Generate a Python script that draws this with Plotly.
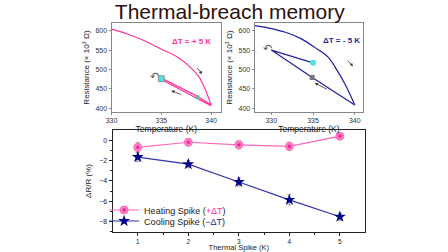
import plotly.graph_objects as go

# ---- data ----
heat_T = [330.0, 331.65, 333.3, 334.95, 336.6, 337.9, 338.9, 340.0]
heat_R = [604, 591, 574, 553, 532, 506, 476, 408]
heat_loop_T = [340.0, 338.6, 335.0, 335.2, 338.6, 340.0]
heat_loop_R = [408, 431, 478, 471, 425, 406]
heat_mark_T = [335.0]
heat_mark_R = [476]
heat_mark2_T = [338.6]
heat_mark2_R = [429]

cool_T = [328.0, 329.7, 331.7, 333.6, 335.2, 336.8, 337.9, 338.9, 340.0]
cool_R = [613, 607, 596, 579, 557, 532, 497, 459, 408]
cool_loop_T = [340.0, 334.9, 330.0, 335.0]
cool_loop_R = [408, 479, 550, 517]
cool_mark_T = [335.0]
cool_mark_R = [517]
cool_sq_T = [334.9]
cool_sq_R = [479]

spike = [1, 2, 3, 4, 5]
heating = [-0.7, -0.2, -0.45, -0.6, 0.4]
heating_err = [0.45, 0.35, 0.4, 0.4, 0.35]
cooling = [-1.65, -2.35, -4.1, -5.85, -7.5]
cooling_err = [0.45, 0.35, 0.4, 0.5, 0.35]

PINK = "#ff3399"
BLUE = "#1f1f9e"
FONT = "Liberation Sans"

fig = go.Figure()

# top-left
fig.add_trace(go.Scatter(x=heat_T, y=heat_R, mode="lines", line=dict(color=PINK, width=1.2),
                         xaxis="x", yaxis="y", showlegend=False, line_shape="spline"))
fig.add_trace(go.Scatter(x=heat_loop_T, y=heat_loop_R, mode="lines", line=dict(color=PINK, width=1.2),
                         xaxis="x", yaxis="y", showlegend=False))
fig.add_trace(go.Scatter(x=heat_mark_T, y=heat_mark_R, mode="markers",
                         marker=dict(symbol="square", size=6, color="#55e0e0", line=dict(color="#888", width=0.8)),
                         xaxis="x", yaxis="y", showlegend=False))
fig.add_trace(go.Scatter(x=heat_mark2_T, y=heat_mark2_R, mode="markers",
                         marker=dict(symbol="square", size=4, color="#66bb99"),
                         xaxis="x", yaxis="y", showlegend=False))

# top-right
fig.add_trace(go.Scatter(x=cool_T, y=cool_R, mode="lines", line=dict(color=BLUE, width=1.2),
                         xaxis="x2", yaxis="y2", showlegend=False, line_shape="spline"))
fig.add_trace(go.Scatter(x=cool_loop_T, y=cool_loop_R, mode="lines", line=dict(color=BLUE, width=1.2),
                         xaxis="x2", yaxis="y2", showlegend=False))
fig.add_trace(go.Scatter(x=cool_mark_T, y=cool_mark_R, mode="markers",
                         marker=dict(symbol="circle", size=6, color="#55e0e0", line=dict(width=0)),
                         xaxis="x2", yaxis="y2", showlegend=False))
fig.add_trace(go.Scatter(x=cool_sq_T, y=cool_sq_R, mode="markers",
                         marker=dict(symbol="square", size=5, color="#777777"),
                         xaxis="x2", yaxis="y2", showlegend=False))

# bottom
fig.add_trace(go.Scatter(x=spike, y=heating, mode="lines+markers",
                         name="Heating Spike (<span style='color:#ff3399'>+ΔT</span>)",
                         line=dict(color="#ff66bb", width=1.2),
                         marker=dict(symbol="circle", size=8, color="#ffc0e0",
                                     gradient=dict(type="radial", color="#f0008a"),
                                     line=dict(color="#ff5fb0", width=1)),
                         error_y=dict(type="data", array=heating_err, color="#999999", thickness=1, width=2),
                         xaxis="x3", yaxis="y3", legend="legend"))
fig.add_trace(go.Scatter(x=spike, y=cooling, mode="lines+markers",
                         name="Cooling Spike (<span style='color:#1f1f9e'>−ΔT</span>)",
                         line=dict(color="#3333aa", width=1.2),
                         marker=dict(symbol="star", size=9, color="#00008b", line=dict(width=0)),
                         error_y=dict(type="data", array=cooling_err, color="#999999", thickness=1, width=2),
                         xaxis="x3", yaxis="y3", legend="legend2"))

def top_axis(domain, rng, anchor):
    return dict(domain=domain, range=rng, showline=True, linecolor="#888", linewidth=1, mirror=True,
                ticks="outside", ticklen=2, tickcolor="#888", showgrid=False, zeroline=False,
                tickfont=dict(size=7, color="#333"), anchor=anchor)

xa = top_axis([0.2388, 0.4866], [330, 341], "y"); xa.update(tickvals=[330, 335, 340],
    title=dict(text="Temperature (K)", font=dict(size=8.5, color="#222"), standoff=2))
ya = top_axis([0.5556, 0.9087], [390, 620], "x"); ya.update(tickvals=[400, 450, 500, 550, 600],
    title=dict(text="Resistance (× 10<sup>3</sup> Ω)", font=dict(size=8, color="#222"), standoff=4))
xb = top_axis([0.5625, 0.808], [328, 341], "y2"); xb.update(tickvals=[330, 335, 340],
    title=dict(text="Temperature (K)", font=dict(size=8.5, color="#222"), standoff=2))
yb = top_axis([0.5556, 0.9087], [390, 620], "x2"); yb.update(tickvals=[400, 450, 500, 550, 600],
    title=dict(text="Resistance (× 10<sup>3</sup> Ω)", font=dict(size=8, color="#222"), standoff=4))

xc = dict(domain=[0.241, 0.8125], range=[0.5, 5.5], anchor="y3", showline=True, linecolor="#222",
          linewidth=1, mirror=True, ticks="outside", ticklen=3, tickcolor="#222", showgrid=False,
          zeroline=False, tickvals=[1, 2, 3, 4, 5], tickfont=dict(size=6.5, color="#222"),
          minor=dict(tickvals=[1.5, 2.5, 3.5, 4.5], ticks="outside", ticklen=2, tickcolor="#222"),
          title=dict(text="Thermal Spike (K)", font=dict(size=7.5, color="#222"), standoff=0))
yc = dict(domain=[0.0794, 0.4841], range=[-9, 1], anchor="x3", showline=True, linecolor="#222",
          linewidth=1, mirror=True, ticks="outside", ticklen=3, tickcolor="#222", showgrid=False,
          zeroline=False, tickvals=[0, -2, -4, -6, -8], tickfont=dict(size=7, color="#222"),
          minor=dict(tickvals=[-1, -3, -5, -7, -9], ticks="outside", ticklen=2, tickcolor="#222"),
          title=dict(text="ΔR/R (%)", font=dict(size=8, color="#222"), standoff=6))

leg = dict(xanchor="left", yanchor="middle", bgcolor="rgba(0,0,0,0)",
           font=dict(size=9, color="#222"), itemwidth=30)
fig.update_layout(
    width=448, height=252, margin=dict(l=0, r=0, t=0, b=0),
    paper_bgcolor="white", plot_bgcolor="white",
    font=dict(family=FONT),
    xaxis=xa, yaxis=ya, xaxis2=xb, yaxis2=yb, xaxis3=xc, yaxis3=yc,
    title=dict(text="Thermal-breach memory", x=0.513, xanchor="center", y=0.952, yanchor="middle",
               font=dict(size=21, color="#2a1010", family=FONT)),
    legend=dict(leg, x=0.222, y=1 - 210 / 252),
    legend2=dict(leg, x=0.222, y=1 - 221 / 252),
)

# labels
fig.add_annotation(x=338.0, y=572, xref="x", yref="y", text="<b>ΔT = + 5 K</b>", showarrow=False,
                   font=dict(size=8, color=PINK))
fig.add_annotation(x=338.4, y=575, xref="x2", yref="y2", text="<b>ΔT = - 5 K</b>", showarrow=False,
                   font=dict(size=8, color=BLUE))

# direction arrows (tail -> head)
arrows = [
    ("x", "y", 338.3, 513, 339.1, 488),
    ("x", "y", 337.3, 432, 336.0, 445),
    ("x2", "y2", 338.8, 531, 339.8, 508),
    ("x2", "y2", 337.0, 445, 335.2, 465),
]
for xr, yr, x0, y0, x1, y1 in arrows:
    fig.add_annotation(x=x1, y=y1, ax=x0, ay=y0, xref=xr, yref=yr, axref=xr, ayref=yr,
                       showarrow=True, arrowhead=2, arrowsize=0.8, arrowwidth=0.8, arrowcolor="#333", text=" ")

curls = [("x", "y", 334.3, 482), ("x2", "y2", 329.6, 553)]
for xr, yr, cx, cy in curls:
    fig.add_annotation(x=cx, y=cy, xref=xr, yref=yr, text="↶", showarrow=False,
                       font=dict(size=11, color="#555", family="DejaVu Sans"))

fig.write_html("out.html", config={"displayModeBar": False},
               post_script="document.body.style.margin='0';document.body.style.overflow='hidden';")
